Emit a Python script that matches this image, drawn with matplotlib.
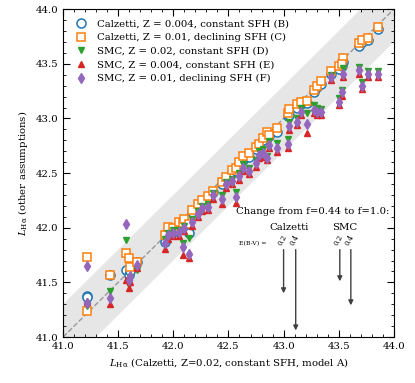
import matplotlib
matplotlib.use("Agg")
import matplotlib.pyplot as plt
import numpy as np

plt.rcParams['font.family'] = 'DejaVu Serif'
plt.rcParams['mathtext.fontset'] = 'dejavuserif'

# L_Halpha for model A (Calzetti, Z=0.02, constant SFH)
x_A = [41.22, 41.22, 41.43, 41.57, 41.60, 41.61, 41.67, 41.92, 41.95, 42.00,
       42.05, 42.09, 42.10, 42.14, 42.17, 42.22, 42.26, 42.31, 42.36, 42.44,
       42.48, 42.53, 42.57, 42.60, 42.63, 42.69, 42.75, 42.78, 42.81, 42.85,
       42.87, 42.94, 43.04, 43.05, 43.12, 43.16, 43.21, 43.28, 43.30, 43.34,
       43.43, 43.50, 43.54, 43.53, 43.68, 43.71, 43.77, 43.86]

y_B = [41.38, 41.37, 41.57, 41.61, 41.57, 41.60, 41.69, 41.87, 41.97, 41.96,
       42.02, 42.00, 42.06, 41.95, 42.14, 42.18, 42.23, 42.27, 42.33, 42.40,
       42.44, 42.50, 42.52, 42.58, 42.62, 42.65, 42.72, 42.75, 42.80, 42.86,
       42.84, 42.88, 43.02, 43.03, 43.10, 43.13, 43.14, 43.24, 43.29, 43.32,
       43.41, 43.45, 43.52, 43.48, 43.66, 43.70, 43.72, 43.82]

y_C = [41.73, 41.24, 41.57, 41.77, 41.72, 41.64, 41.69, 41.93, 42.01, 42.00,
       42.05, 42.04, 42.08, 42.03, 42.16, 42.22, 42.25, 42.29, 42.34, 42.42,
       42.46, 42.53, 42.55, 42.60, 42.66, 42.68, 42.74, 42.77, 42.82, 42.88,
       42.85, 42.91, 43.05, 43.09, 43.13, 43.15, 43.16, 43.26, 43.30, 43.34,
       43.43, 43.48, 43.55, 43.50, 43.69, 43.72, 43.74, 43.84]

y_D = [41.29, 41.28, 41.42, 41.89, 41.48, 41.55, 41.61, 41.90, 41.95, 41.98,
       41.98, 41.86, 42.02, 41.91, 42.08, 42.15, 42.20, 42.22, 42.32, 42.30,
       42.42, 42.45, 42.33, 42.50, 42.58, 42.55, 42.62, 42.70, 42.72, 42.66,
       42.79, 42.78, 42.81, 42.97, 43.00, 43.10, 43.05, 43.12, 43.10, 43.09,
       43.40, 43.19, 43.46, 43.26, 43.47, 43.33, 43.43, 43.43]

y_E = [41.33, 41.32, 41.30, 41.52, 41.45, 41.50, 41.63, 41.81, 41.90, 41.92,
       41.92, 41.75, 41.97, 41.72, 42.02, 42.10, 42.15, 42.16, 42.26, 42.22,
       42.36, 42.40, 42.23, 42.44, 42.52, 42.49, 42.56, 42.64, 42.65, 42.62,
       42.73, 42.69, 42.73, 42.89, 42.94, 43.03, 42.87, 43.05, 43.03, 43.03,
       43.35, 43.12, 43.38, 43.21, 43.41, 43.27, 43.38, 43.38]

y_F = [41.65, 41.31, 41.36, 42.03, 41.52, 41.56, 41.66, 41.86, 41.93, 41.95,
       41.96, 41.82, 42.00, 41.76, 42.05, 42.13, 42.18, 42.19, 42.30, 42.26,
       42.40, 42.43, 42.28, 42.47, 42.55, 42.52, 42.59, 42.67, 42.68, 42.64,
       42.76, 42.73, 42.77, 42.93, 42.97, 43.06, 42.95, 43.08, 43.06, 43.06,
       43.38, 43.15, 43.41, 43.24, 43.44, 43.30, 43.41, 43.41]

labels = ["Calzetti, Z = 0.004, constant SFH (B)",
          "Calzetti, Z = 0.01, declining SFH (C)",
          "SMC, Z = 0.02, constant SFH (D)",
          "SMC, Z = 0.004, constant SFH (E)",
          "SMC, Z = 0.01, declining SFH (F)"]

# change from f=0.44 to f=1.0 for E(B-V)=0.2, 0.4
arrow_x = [43.00, 43.11, 43.51, 43.61]
arrow_len = [0.40, 0.74, 0.29, 0.51]
arrow_lab = ["0.2", "0.4", "0.2", "0.4"]

fs = 7.3
fig = plt.figure(figsize=(4.15, 3.83), dpi=100)
ax = fig.add_axes([0.152, 0.12, 0.797, 0.856])

lim = np.array([41.0, 44.0])
ax.fill_between(lim, lim - 0.3, lim + 0.3, color='0.9', lw=0, zorder=0)
ax.plot(lim, lim, ls='--', color='0.6', lw=1, zorder=1)

ax.plot(x_A, y_B, 'o', ms=6.5, mfc='white', mec='#1f77b4', mew=1.1, label=labels[0])
ax.plot(x_A, y_C, 's', ms=6, mfc='white', mec='#ff7f0e', mew=1.1, label=labels[1])
ax.plot(x_A, y_D, 'v', ms=5, color='#2ca02c', label=labels[2])
ax.plot(x_A, y_E, '^', ms=5, color='#d62728', label=labels[3])
ax.plot(x_A, y_F, 'd', ms=5, color='#9467bd', label=labels[4])

ax.set_xlim(41.0, 44.0)
ax.set_ylim(41.0, 44.0)
ax.set_xticks(np.arange(41.0, 44.01, 0.5))
ax.set_yticks(np.arange(41.0, 44.01, 0.5))
ax.xaxis.set_minor_locator(matplotlib.ticker.MultipleLocator(0.1))
ax.yaxis.set_minor_locator(matplotlib.ticker.MultipleLocator(0.1))
ax.tick_params(which='both', direction='in', top=True, right=True, labelsize=fs)
ax.tick_params(which='major', length=5)
ax.tick_params(which='minor', length=2.5)

ax.set_xlabel(r"$L_{\rm H\alpha}$ (Calzetti, Z=0.02, constant SFH, model A)", fontsize=fs)
ax.set_ylabel(r"$L_{\rm H\alpha}$ (other assumptions)", fontsize=fs)

ax.legend(loc='upper left', frameon=False, fontsize=fs, handletextpad=0.8,
          labelspacing=0.45, borderaxespad=0.6, handlelength=1.5)

# annotation of f change
ax.text(43.26, 42.15, "Change from f=0.44 to f=1.0:", fontsize=fs, ha='center', va='center')
ax.text(43.05, 42.0, "Calzetti", fontsize=fs, ha='center', va='center')
ax.text(43.55, 42.0, "SMC", fontsize=fs, ha='center', va='center')
ax.text(42.72, 41.86, "E(B-V) =", fontsize=4.5, ha='center', va='center')
y0 = 41.80
for xa, ln, lb in zip(arrow_x, arrow_len, arrow_lab):
    ax.annotate("", xy=(xa, y0 - ln), xytext=(xa, y0),
                arrowprops=dict(arrowstyle='-|>', color='0.25', lw=1,
                                mutation_scale=7, shrinkA=0, shrinkB=0))
    ax.text(xa - 0.01, y0 + 0.02, lb, fontsize=5, rotation=60, ha='center', va='bottom')

fig.savefig("out.png", dpi=100)
